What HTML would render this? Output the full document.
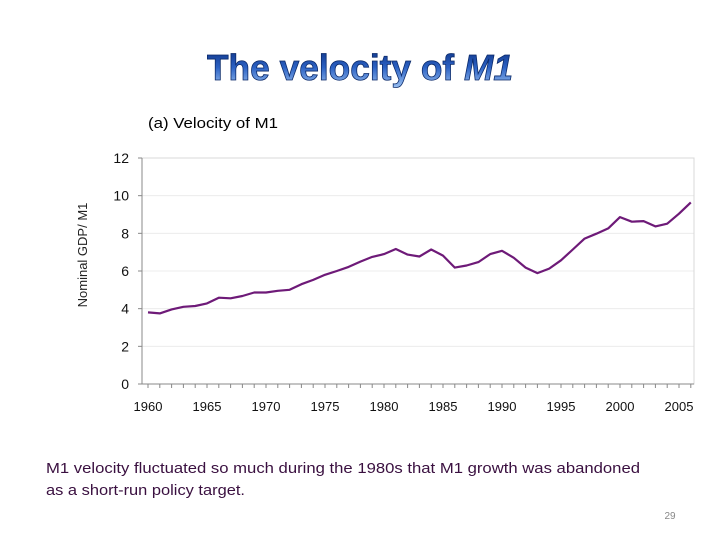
<!DOCTYPE html>
<html><head><meta charset="utf-8"><style>
body{margin:0;background:#fff;}
svg{display:block;font-family:"Liberation Sans",sans-serif;}
</style></head><body>
<svg id="c" width="720" height="540" viewBox="0 0 720 540">
<defs><linearGradient id="tg" x1="0" y1="0" x2="0" y2="1">
<stop offset="0" stop-color="#0b2f80"/><stop offset="0.5" stop-color="#2c62c4"/><stop offset="1" stop-color="#9cc2f2"/></linearGradient></defs>
<text x="360" y="80" text-anchor="middle" font-size="36" font-weight="bold" fill="url(#tg)" stroke="#0b2a6a" stroke-width="0.8" textLength="306" lengthAdjust="spacingAndGlyphs">The velocity of <tspan font-style="italic">M1</tspan></text>
<text x="148" y="128" font-size="15" fill="#000" textLength="130" lengthAdjust="spacingAndGlyphs">(a) Velocity of M1</text>
<text transform="translate(87,255) rotate(-90)" text-anchor="middle" font-size="13" fill="#222">Nominal GDP/ M1</text>
<g id="grid"></g>
<g id="axes"></g>
<path id="line" fill="none" stroke="#6e1a78" stroke-width="2.2" stroke-linejoin="round"/>
<text x="46" y="473" font-size="15" fill="#3a1040" textLength="594" lengthAdjust="spacingAndGlyphs">M1 velocity fluctuated so much during the 1980s that M1 growth was abandoned</text>
<text x="46" y="495" font-size="15" fill="#3a1040" textLength="199" lengthAdjust="spacingAndGlyphs">as a short-run policy target.</text>
<text x="670" y="519" text-anchor="middle" font-size="10" fill="#888">29</text>
</svg>
<script>
const years=[1960,1961,1962,1963,1964,1965,1966,1967,1968,1969,1970,1971,1972,1973,1974,1975,1976,1977,1978,1979,1980,1981,1982,1983,1984,1985,1986,1987,1988,1989,1990,1991,1992,1993,1994,1995,1996,1997,1998,1999,2000,2001,2002,2003,2004,2005,2006];
const velocity=[3.8,3.75,3.96,4.1,4.14,4.28,4.58,4.55,4.67,4.86,4.86,4.95,5.0,5.3,5.53,5.8,6.0,6.22,6.5,6.75,6.9,7.17,6.87,6.77,7.14,6.82,6.18,6.29,6.47,6.9,7.07,6.7,6.18,5.89,6.13,6.57,7.14,7.72,7.98,8.26,8.86,8.62,8.65,8.37,8.51,9.04,9.64];
const yTicks=[0,2,4,6,8,10,12];
const xTicks=[1960,1965,1970,1975,1980,1985,1990,1995,2000,2005];
const NS='http://www.w3.org/2000/svg';
const x=v=>148+(v-1960)*11.8;
const y=v=>384-v*(226/12);
const grid=document.getElementById('grid'),axes=document.getElementById('axes');
function mk(tag,attrs,parent){const e=document.createElementNS(NS,tag);for(const k in attrs)e.setAttribute(k,attrs[k]);parent.appendChild(e);return e;}
yTicks.forEach(t=>{
  if(t>0){const g=mk('line',{x1:142,x2:694,y1:y(t),y2:y(t),stroke:'#ececec','stroke-width':1},grid);
  
  }
  const tk=mk('line',{x1:138,x2:142,y1:y(t),y2:y(t),stroke:'#888'},axes);
  
  
  const l=mk('text',{x:129,y:y(t)+5,'text-anchor':'end','font-size':14,fill:'#111'},axes);
  l.textContent=t;
  
  
});
mk('rect',{x:142,y:158,width:552,height:226,fill:'none',stroke:'#d8d8d8'},grid);
mk('line',{x1:142,x2:142,y1:158,y2:384,stroke:'#888'},axes);
mk('line',{x1:142,x2:694,y1:384,y2:384,stroke:'#888'},axes);
for(let yr=1960;yr<=2006;yr++){
  const t=mk('line',{x1:x(yr),x2:x(yr),y1:384,y2:388,stroke:'#888'},axes);
  
  
}
xTicks.forEach(t=>{
  const l=mk('text',{x:x(t),y:411,'text-anchor':'middle','font-size':13,fill:'#111'},axes);
  l.textContent=t;
  
  
});
document.getElementById('line').setAttribute('d',years.map((yr,i)=>(i?'L':'M')+x(yr).toFixed(1)+','+y(velocity[i]).toFixed(1)).join(''));
</script>
</body></html>
